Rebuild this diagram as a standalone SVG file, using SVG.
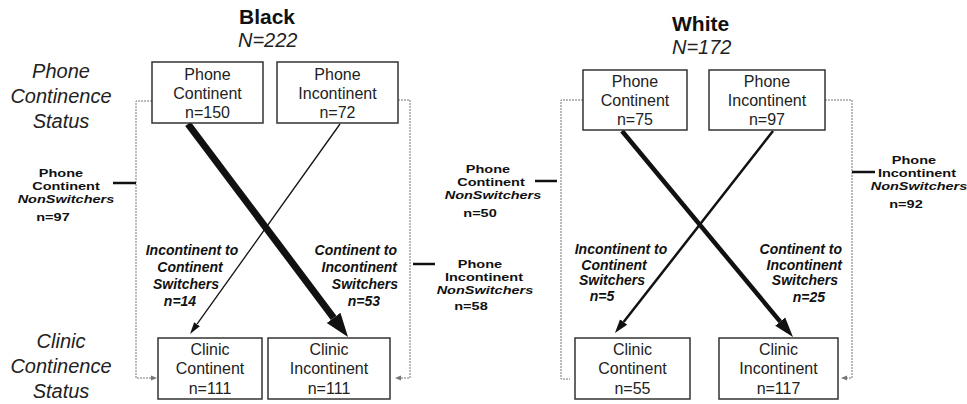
<svg xmlns="http://www.w3.org/2000/svg" width="967" height="404" viewBox="0 0 967 404">
  <style>
    .box { fill: #fff; stroke: #333; stroke-width: 1.5; }
    .bt { font-family: "Liberation Sans", Arial, sans-serif; font-size: 16px; fill: #222; text-anchor: middle; }
    .side { font-family: "Liberation Sans", Arial, sans-serif; font-size: 20px; font-style: italic; fill: #222; text-anchor: middle; }
    .title { font-family: "Liberation Sans", Arial, sans-serif; font-size: 21px; font-weight: bold; fill: #111; }
    .ntitle { font-family: "Liberation Sans", Arial, sans-serif; font-size: 20px; font-style: italic; fill: #222; }
    .sw { font-family: "Liberation Sans", Arial, sans-serif; font-size: 14px; font-weight: bold; font-style: italic; fill: #111; }
    .ns { font-family: "Liberation Sans", Arial, sans-serif; font-size: 14.5px; font-weight: bold; fill: #111; text-anchor: middle; }
    .ns .it { font-style: italic; }
    .dash { fill: none; stroke: #777; stroke-width: 1; stroke-dasharray: 2 1; }
    .tick { stroke: #111; stroke-width: 2.5; }
    .flow { stroke: #111; fill: none; stroke-linecap: butt; }
  </style>
  <defs>
    <marker id="head-xl" markerUnits="userSpaceOnUse" markerWidth="26" markerHeight="20" viewBox="0 -10 26 20" refX="0" refY="0" orient="auto">
      <path d="M0,-8.5 L24,0 L0,8.5 z" fill="#111"/>
    </marker>
    <marker id="head-l" markerUnits="userSpaceOnUse" markerWidth="22" markerHeight="16" viewBox="0 -8 22 16" refX="0" refY="0" orient="auto">
      <path d="M0,-6.5 L20,0 L0,6.5 z" fill="#111"/>
    </marker>
    <marker id="head-m" markerUnits="userSpaceOnUse" markerWidth="16" markerHeight="12" viewBox="0 -6 16 12" refX="0" refY="0" orient="auto">
      <path d="M0,-4.5 L14,0 L0,4.5 z" fill="#111"/>
    </marker>
    <marker id="head-s" markerUnits="userSpaceOnUse" markerWidth="14" markerHeight="10" viewBox="0 -5 14 10" refX="0" refY="0" orient="auto">
      <path d="M0,-3.5 L12,0 L0,3.5 z" fill="#111"/>
    </marker>
    <marker id="head-dot" markerUnits="userSpaceOnUse" markerWidth="8" markerHeight="8" viewBox="0 -4 8 8" refX="0" refY="0" orient="auto">
      <path d="M0,-2.5 L6,0 L0,2.5 z" fill="#777"/>
    </marker>
  </defs>

  <!-- group headings -->
  <g id="heading-black">
    <text class="title" x="239" y="24">Black</text>
    <text class="ntitle" x="238" y="47">N=222</text>
  </g>
  <g id="heading-white">
    <text class="title" x="672" y="31">White</text>
    <text class="ntitle" x="672" y="54">N=172</text>
  </g>

  <!-- row labels -->
  <g id="label-phone-status">
    <text class="side" x="61" y="78">Phone</text>
    <text class="side" x="61" y="103">Continence</text>
    <text class="side" x="61" y="128">Status</text>
  </g>
  <g id="label-clinic-status">
    <text class="side" x="61" y="348">Clinic</text>
    <text class="side" x="61" y="373">Continence</text>
    <text class="side" x="61" y="398">Status</text>
  </g>

  <!-- connectors -->
  <g id="connectors">
    <!-- nonswitcher paths (dotted) -->
    <polyline class="dash" points="152,101 136,101 136,378 151,378" marker-end="url(#head-dot)"/>
    <polyline class="dash" points="398,100 410,100 410,378 401,378" marker-end="url(#head-dot)"/>
    <polyline class="dash" points="583,100 561,100 561,379 570,379"/>
    <polyline class="dash" points="825,100 852,100 852,378 847,378" marker-end="url(#head-dot)"/>
    <!-- nonswitcher ticks -->
    <line class="tick" x1="113" y1="183" x2="136" y2="183"/>
    <line class="tick" x1="413" y1="264" x2="435" y2="264"/>
    <line class="tick" x1="535" y1="181" x2="557" y2="181"/>
    <line class="tick" x1="852" y1="172" x2="875" y2="172"/>
    <!-- switcher flows -->
    <line class="flow" x1="188" y1="124" x2="333.6" y2="317.8" stroke-width="7" marker-end="url(#head-xl)"/>
    <line class="flow" x1="340" y1="124" x2="197" y2="324.2" stroke-width="1.3" marker-end="url(#head-s)"/>
    <line class="flow" x1="622" y1="131" x2="780.2" y2="321.6" stroke-width="4.5" marker-end="url(#head-l)"/>
    <line class="flow" x1="773" y1="131" x2="623.6" y2="322" stroke-width="2.5" marker-end="url(#head-m)"/>
  </g>

  <!-- Black cohort nodes -->
  <g id="b-phone-continent">
    <rect class="box" x="152" y="62" width="111" height="61"/>
    <text class="bt" x="207.5" y="80">Phone</text>
    <text class="bt" x="207.5" y="99">Continent</text>
    <text class="bt" x="207.5" y="118">n=150</text>
  </g>
  <g id="b-phone-incontinent">
    <rect class="box" x="277" y="62" width="121" height="61"/>
    <text class="bt" x="337.5" y="80">Phone</text>
    <text class="bt" x="337.5" y="99">Incontinent</text>
    <text class="bt" x="337.5" y="118">n=72</text>
  </g>
  <g id="b-clinic-continent">
    <rect class="box" x="158" y="338" width="104" height="61"/>
    <text class="bt" x="210" y="355">Clinic</text>
    <text class="bt" x="210" y="374">Continent</text>
    <text class="bt" x="210" y="394">n=111</text>
  </g>
  <g id="b-clinic-incontinent">
    <rect class="box" x="268" y="338" width="122" height="61"/>
    <text class="bt" x="329" y="355">Clinic</text>
    <text class="bt" x="329" y="374">Incontinent</text>
    <text class="bt" x="329" y="394">n=111</text>
  </g>

  <!-- White cohort nodes -->
  <g id="w-phone-continent">
    <rect class="box" x="583" y="70" width="104" height="60"/>
    <text class="bt" x="635" y="87">Phone</text>
    <text class="bt" x="635" y="106">Continent</text>
    <text class="bt" x="635" y="125">n=75</text>
  </g>
  <g id="w-phone-incontinent">
    <rect class="box" x="709" y="70" width="116" height="60"/>
    <text class="bt" x="767" y="87">Phone</text>
    <text class="bt" x="767" y="106">Incontinent</text>
    <text class="bt" x="767" y="125">n=97</text>
  </g>
  <g id="w-clinic-continent">
    <rect class="box" x="575" y="338" width="115" height="61"/>
    <text class="bt" x="632.5" y="355">Clinic</text>
    <text class="bt" x="632.5" y="374">Continent</text>
    <text class="bt" x="632.5" y="394">n=55</text>
  </g>
  <g id="w-clinic-incontinent">
    <rect class="box" x="719" y="338" width="119" height="61"/>
    <text class="bt" x="778.5" y="355">Clinic</text>
    <text class="bt" x="778.5" y="374">Incontinent</text>
    <text class="bt" x="778.5" y="394">n=117</text>
  </g>

  <!-- switcher labels -->
  <g id="b-inc-to-cont-label" class="sw" text-anchor="middle">
    <text x="192" y="255">Incontinent to</text>
    <text x="190" y="272">Continent</text>
    <text x="186" y="289">Switchers</text>
    <text x="180" y="306">n=14</text>
  </g>
  <g id="b-cont-to-inc-label" class="sw" text-anchor="end">
    <text x="397" y="255">Continent to</text>
    <text x="397" y="272">Incontinent</text>
    <text x="398" y="289">Switchers</text>
    <text x="380" y="306">n=53</text>
  </g>
  <g id="w-inc-to-cont-label" class="sw" text-anchor="middle">
    <text x="621" y="254">Incontinent to</text>
    <text x="614" y="269.5">Continent</text>
    <text x="612" y="285">Switchers</text>
    <text x="602" y="301">n=5</text>
  </g>
  <g id="w-cont-to-inc-label" class="sw" text-anchor="end">
    <text x="842" y="254">Continent to</text>
    <text x="842" y="269.5">Incontinent</text>
    <text x="838" y="285">Switchers</text>
    <text x="825" y="302">n=25</text>
  </g>

  <!-- nonswitcher labels (set in a vertically condensed face) -->
  <g id="b-cont-nonswitch-label" class="ns" transform="translate(0,177) scale(1,0.8)">
    <text x="61" y="0">Phone</text>
    <text x="66" y="16.25">Continent</text>
    <text x="66" y="32.5" class="it">NonSwitchers</text>
    <text x="53" y="55">n=97</text>
  </g>
  <g id="b-inc-nonswitch-label" class="ns" transform="translate(0,268) scale(1,0.8)">
    <text x="480" y="0">Phone</text>
    <text x="484" y="16.25">Incontinent</text>
    <text x="485" y="32.5" class="it">NonSwitchers</text>
    <text x="471" y="52.5">n=58</text>
  </g>
  <g id="w-cont-nonswitch-label" class="ns" transform="translate(0,173) scale(1,0.8)">
    <text x="488" y="0">Phone</text>
    <text x="491" y="16.25">Continent</text>
    <text x="493" y="32.5" class="it">NonSwitchers</text>
    <text x="480" y="55">n=50</text>
  </g>
  <g id="w-inc-nonswitch-label" class="ns" transform="translate(0,164) scale(1,0.8)">
    <text x="914" y="0">Phone</text>
    <text x="917" y="16.25">Incontinent</text>
    <text x="919" y="32.5" class="it">NonSwitchers</text>
    <text x="906" y="55">n=92</text>
  </g>
</svg>
